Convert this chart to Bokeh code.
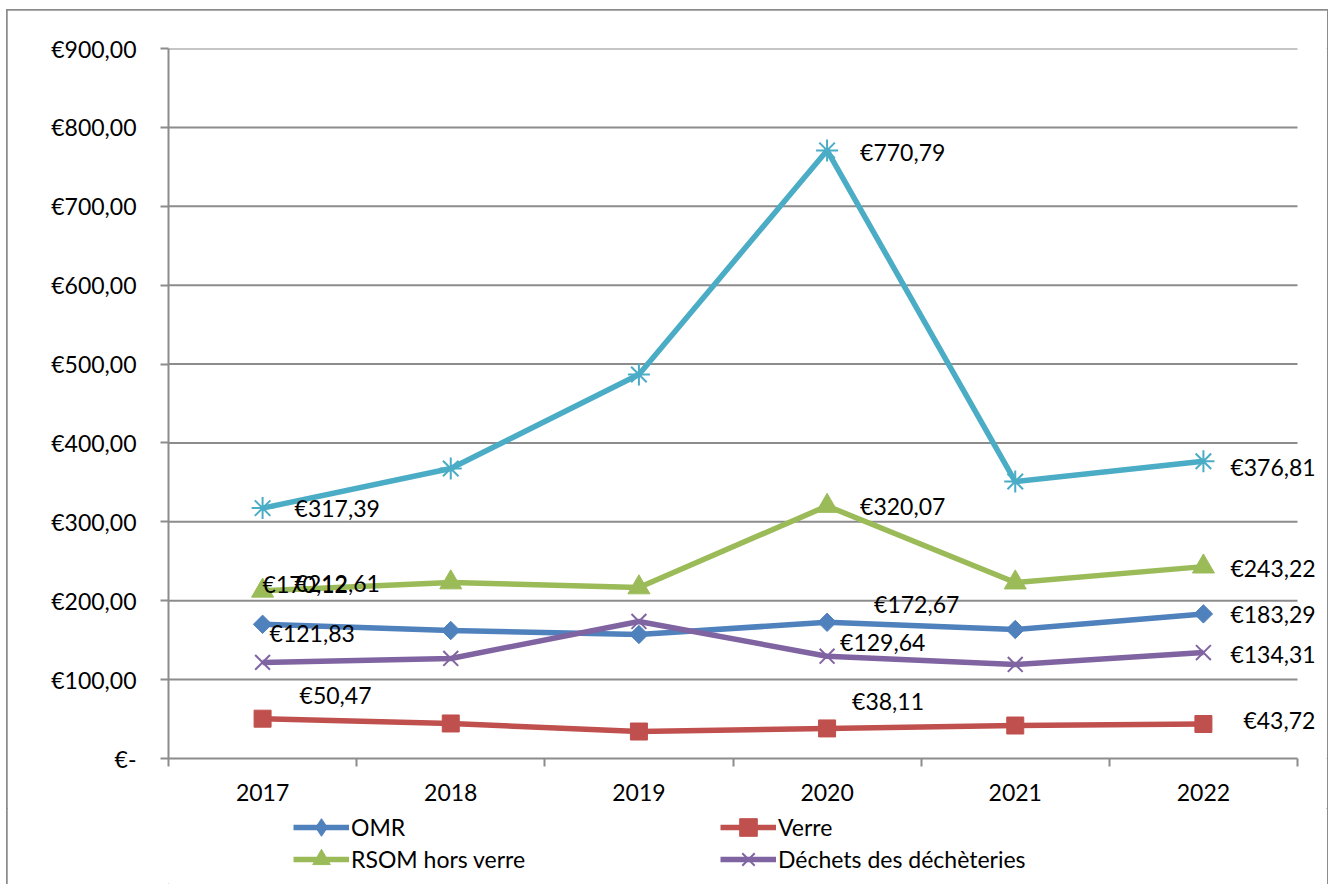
from bokeh.plotting import figure
from bokeh.models import Range1d, FixedTicker, Legend, LegendItem, ColumnDataSource
from bokeh.layouts import column
from bokeh.core.properties import value
from bokeh.embed import file_html
from bokeh.resources import INLINE

years = ["2017", "2018", "2019", "2020", "2021", "2022"]
omr = [170.12, 162.2, 157.2, 172.67, 163.5, 183.29]
verre = [50.47, 44.4, 34.2, 38.11, 41.8, 43.72]
rsom = [212.61, 223.1, 216.8, 320.07, 223.0, 243.22]
decheteries = [121.83, 126.8, 173.7, 129.64, 119.2, 134.31]
total = [317.39, 367.6, 486.8, 770.79, 351.1, 376.81]
y_ticks = [0, 100, 200, 300, 400, 500, 600, 700, 800, 900]
labeled_idx = [0, 3, 5]

FONT = "Lato"
FS = "23px"
GRID = "#8c8c8c"

def eur(v):
    if v == 0:
        return "€-"
    return "€" + f"{v:.2f}".replace(".", ",")

xs = list(range(len(years)))
x_lo, x_hi = -0.5, len(years) - 0.5

p = figure(frame_width=1159, frame_height=710, min_border_left=161, min_border_right=0,
           min_border_top=38, min_border_bottom=50,
           x_range=Range1d(x_lo, x_hi + 30 / 188.17), y_range=Range1d(0, 900),
           output_backend="svg", toolbar_location=None)
p.outline_line_color = None
p.background_fill_color = "white"
p.border_fill_color = "white"

p.xaxis.ticker = FixedTicker(ticks=xs, minor_ticks=[i - 0.5 for i in range(len(years) + 1)])
p.xaxis.major_label_overrides = {i: y for i, y in enumerate(years)}
p.xaxis.bounds = (x_lo, x_hi)
p.xaxis.major_tick_out = 0
p.xaxis.major_tick_in = 0
p.xaxis.minor_tick_out = 8
p.xaxis.minor_tick_in = 0
p.xaxis.minor_tick_line_color = GRID
p.xaxis.minor_tick_line_width = 2
p.xaxis.axis_line_color = GRID
p.xaxis.axis_line_width = 2
p.xaxis.major_label_standoff = 17
p.xgrid.grid_line_color = None
p.ygrid.grid_line_color = None

p.yaxis.ticker = FixedTicker(ticks=y_ticks, minor_ticks=[])
p.yaxis.major_label_overrides = {t: eur(t) for t in y_ticks}
p.yaxis.major_tick_out = 8
p.yaxis.major_tick_in = 0
p.yaxis.major_tick_line_color = GRID
p.yaxis.major_tick_line_width = 2
p.yaxis.axis_line_color = GRID
p.yaxis.axis_line_width = 2
p.yaxis.major_label_standoff = 24

for ax in (p.xaxis, p.yaxis):
    ax.major_label_text_font = FONT
    ax.major_label_text_font_size = FS
    ax.major_label_text_color = "black"

# horizontal gridlines limited to the category span
gl = [t for t in y_ticks if t > 0]
p.segment(x0=[x_lo] * len(gl), x1=[x_hi] * len(gl), y0=gl, y1=gl,
          line_color=GRID, line_width=2)

series = [
    ("total", total, "#4BACC6", "asterisk", 22, None),
    ("RSOM hors verre", rsom, "#9BBB59", "triangle", 22, None),
    ("OMR", omr, "#4F81BD", "square", 13, 0.785398),
    ("Déchets des déchèteries", decheteries, "#8064A2", "x", 21, None),
    ("Verre", verre, "#C0504D", "square", 17, None),
]

def marker_kw(color, marker, size, angle):
    kw = dict(marker=marker, size=size, fill_color=color, line_color=color)
    if marker in ("x", "asterisk"):
        kw["line_width"] = 2
    if angle is not None:
        kw["angle"] = angle
    return kw

for name, vals, color, marker, size, angle in series:
    p.line(xs, vals, line_color=color, line_width=5.5)
    p.scatter(xs, vals, **marker_kw(color, marker, size, angle))

# data labels
label_offsets = {
    "total": [(32, 0), (33, 2), (27, 6)],
    "RSOM hors verre": [(32, -8), (33, 0), (27, 1)],
    "OMR": [(0, -40), (47, -18), (27, 0)],
    "Déchets des déchèteries": [(7, -29), (13, -14), (27, 1)],
    "Verre": [(37, -24), (25, -27), (40, -4)],
}
for name, vals, color, marker, size, angle in series:
    offs = label_offsets[name]
    src = ColumnDataSource(dict(
        x=[xs[i] for i in labeled_idx],
        y=[vals[i] for i in labeled_idx],
        t=[eur(vals[i]) for i in labeled_idx],
        dx=[o[0] for o in offs],
        dy=[o[1] for o in offs],
    ))
    p.text(x="x", y="y", text="t", x_offset="dx", y_offset="dy", source=src,
           text_font=value(FONT), text_font_size=FS, text_color="black",
           text_align="left", text_baseline="middle")

# legend strip below the chart
lf = figure(width=1320, height=76, min_border=0, x_range=Range1d(0, 1), y_range=Range1d(0, 1),
            x_axis_type=None, y_axis_type=None, output_backend="svg", toolbar_location=None)
lf.outline_line_color = None
lf.xgrid.grid_line_color = None
lf.ygrid.grid_line_color = None
lf.border_fill_color = "white"

legend_markers = {"OMR": ("diamond", 20, None)}
legend_r = {}
for name, vals, color, marker, size, angle in series:
    m, s, a = legend_markers.get(name, (marker, size, angle))
    ln = lf.line([5, 6], [5, 6], line_color=color, line_width=5.5)
    sc = lf.scatter([5], [5], **marker_kw(color, m, s, a))
    legend_r[name] = [ln, sc]

def make_legend(name, loc):
    lg = Legend(items=[LegendItem(label=name, renderers=legend_r[name])],
                location=loc, orientation="vertical")
    lg.glyph_width = 56
    lg.glyph_height = 44
    lg.label_standoff = 2
    lg.spacing = 0
    lg.padding = 0
    lg.margin = 0
    lg.border_line_color = None
    lg.background_fill_alpha = 0
    lg.label_text_font = FONT
    lg.label_text_font_size = FS
    lg.label_text_color = "black"
    lg.label_height = 20
    return lg

legend_layout = [("OMR", (125, 35)), ("RSOM hors verre", (125, 3)),
                 ("Verre", (552, 35)), ("Déchets des déchèteries", (552, 3))]
for name, loc in legend_layout:
    lf.add_layout(make_legend(name, loc))

layout = column(p, lf, spacing=0)
layout.margin = (10, 0, 0, 7)
layout.styles = {"outline": "2px solid #8c8c8c", "outline-offset": "-1px"}

open("out.html", "w").write(file_html(layout, INLINE))
